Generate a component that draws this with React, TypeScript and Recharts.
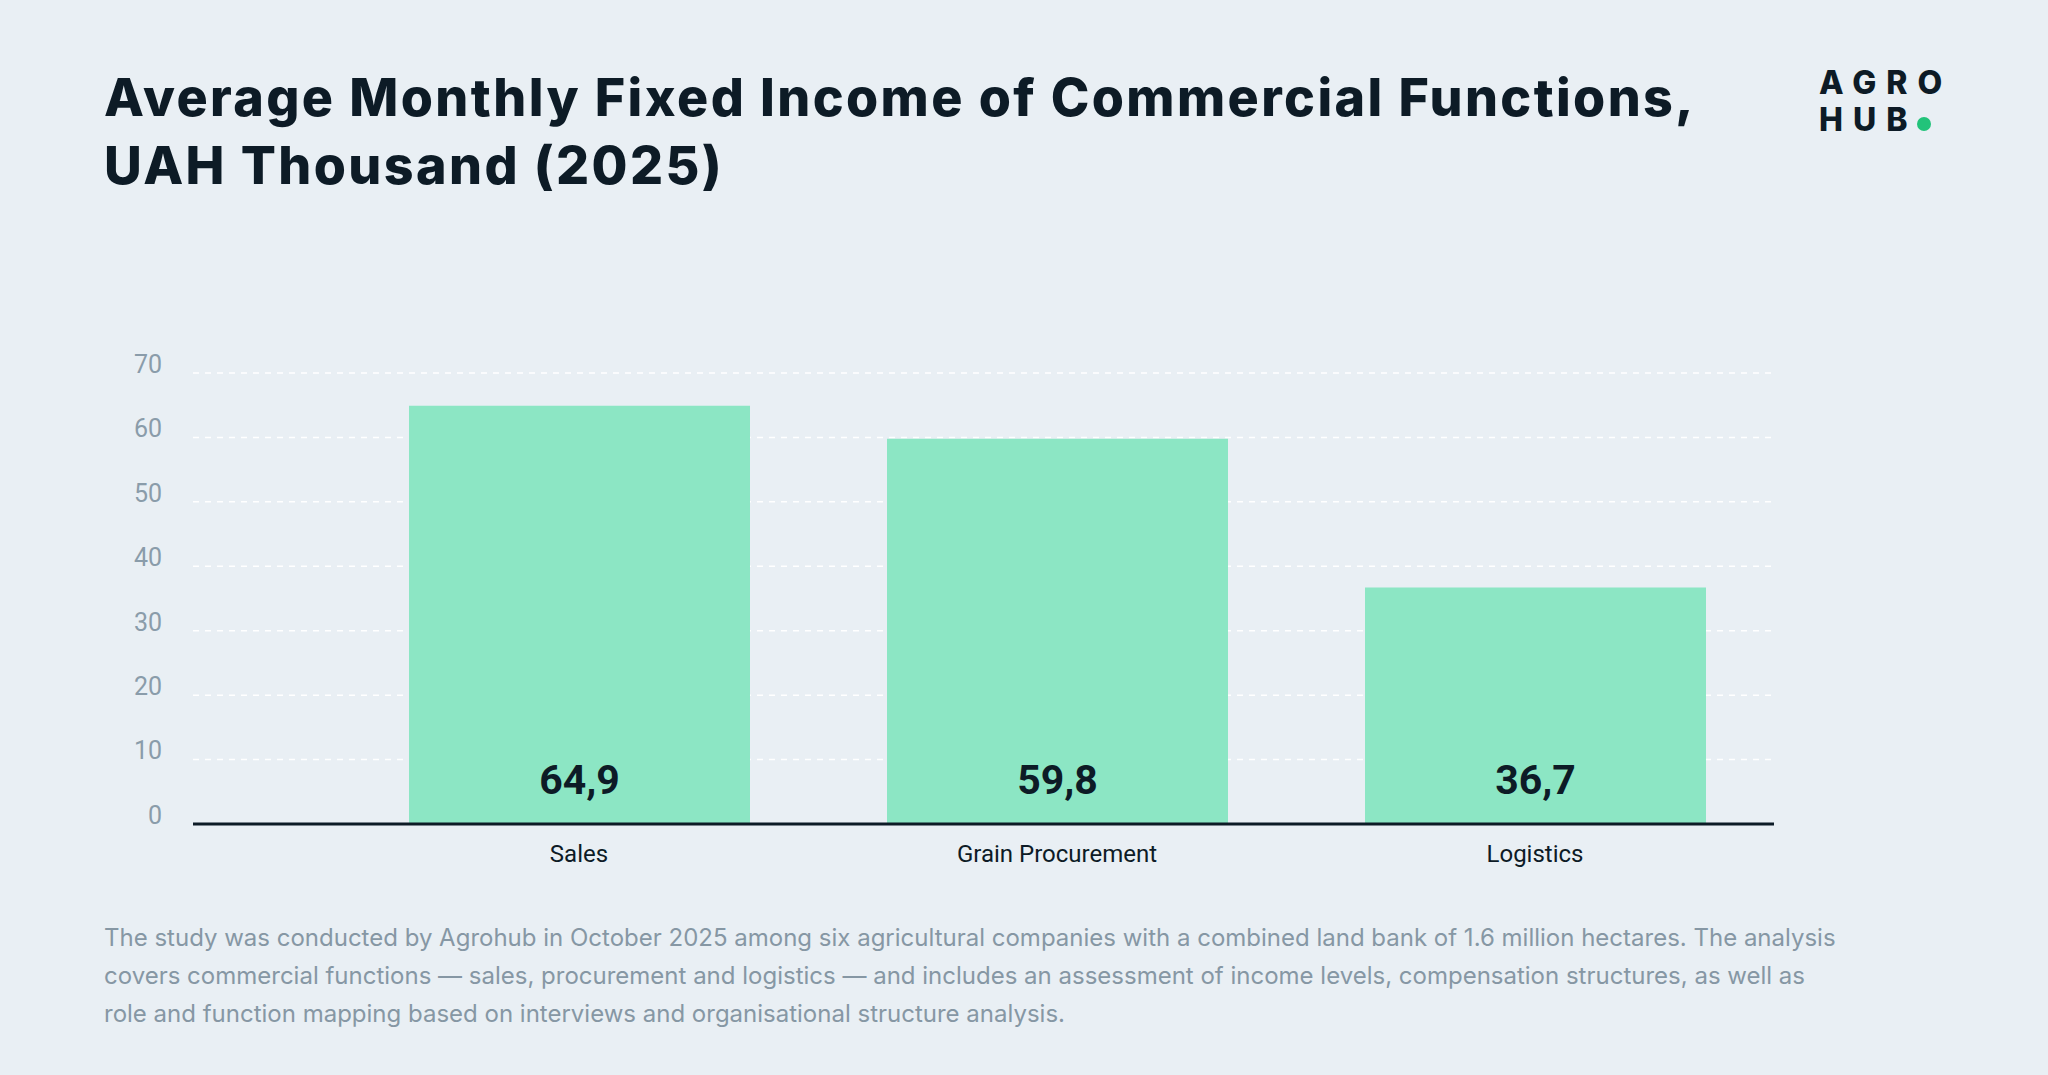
import React from "react";
import { BarChart, Bar, XAxis, YAxis, CartesianGrid, LabelList } from "recharts";

const categories = ["Sales", "Grain Procurement", "Logistics"];
const values = [64.9, 59.8, 36.7];
const yTicks = [0, 10, 20, 30, 40, 50, 60, 70];

const data = categories.map((c, i) => ({ name: c, value: values[i] }));

const ValueLabel = (props: any) => {
  const { x, y, width, height, value } = props;
  return (
    <text x={x + width / 2} y={y + height - 44} textAnchor="middle" dominantBaseline="central"
      fontFamily="Roboto" fontWeight={700} fontSize={41} fill="#0d1b26">
      {String(value).replace(".", ",")}
    </text>
  );
};

export default function App() {
  return (
    <div style={{ position: "absolute", left: 0, top: 0, width: 2048, height: 1075, background: "#e9eff4", fontFamily: "Inter, sans-serif", overflow: "hidden" }}>
      <div style={{ position: "absolute", left: 104, top: 64, fontSize: 52, fontWeight: 800, color: "#0d1b26", lineHeight: "68px", letterSpacing: "2.4px", whiteSpace: "nowrap" }}>
        Average Monthly Fixed Income of Commercial Functions,<br />UAH Thousand (2025)
      </div>
      <div style={{ position: "absolute", left: 1819, top: 64, fontSize: 32, fontWeight: 800, color: "#0d1b26", lineHeight: "37px", letterSpacing: "10px" }}>
        AGRO<br />HUB<span style={{ display: "inline-block", width: 14, height: 14, borderRadius: 7, background: "#22c37a", marginLeft: 0 }} />
      </div>
      <div style={{ position: "absolute", left: 0, top: 340 }}>
        <BarChart width={2048} height={560} data={data} margin={{ top: 33, right: 274, left: 0, bottom: 16 }}>
          <CartesianGrid vertical={false} stroke="#ffffff" strokeDasharray="6 6" strokeWidth={1.5} />
          <YAxis type="number" domain={[0, 70]} ticks={yTicks} width={193} axisLine={false} tickLine={false} tickSize={0} tickMargin={31}
            tick={{ fill: "#8a9caa", fontSize: 25, fontFamily: "Roboto", dy: -9 }} interval={0} />
          <XAxis dataKey="name" height={60} padding={{ left: 147, right: 0 }} axisLine={{ stroke: "#0d1b26", strokeWidth: 3 }} tickLine={false} tickSize={0} tickMargin={21}
            tick={{ fill: "#0d1b26", fontSize: 24, fontFamily: "Roboto" }} interval={0} />
          <Bar dataKey="value" fill="#8ce6c4" barSize={341} isAnimationActive={false}>
            <LabelList dataKey="value" content={ValueLabel} />
          </Bar>
        </BarChart>
      </div>
      <div style={{ position: "absolute", left: 104, top: 919, width: 1900, fontSize: 24, color: "#8697a4", lineHeight: "38px", fontFamily: "Inter", whiteSpace: "nowrap" }}>
        The study was conducted by Agrohub in October 2025 among six agricultural companies with a combined land bank of 1.6 million hectares. The analysis<br />
        covers commercial functions — sales, procurement and logistics — and includes an assessment of income levels, compensation structures, as well as<br />
        role and function mapping based on interviews and organisational structure analysis.
      </div>
    </div>
  );
}
